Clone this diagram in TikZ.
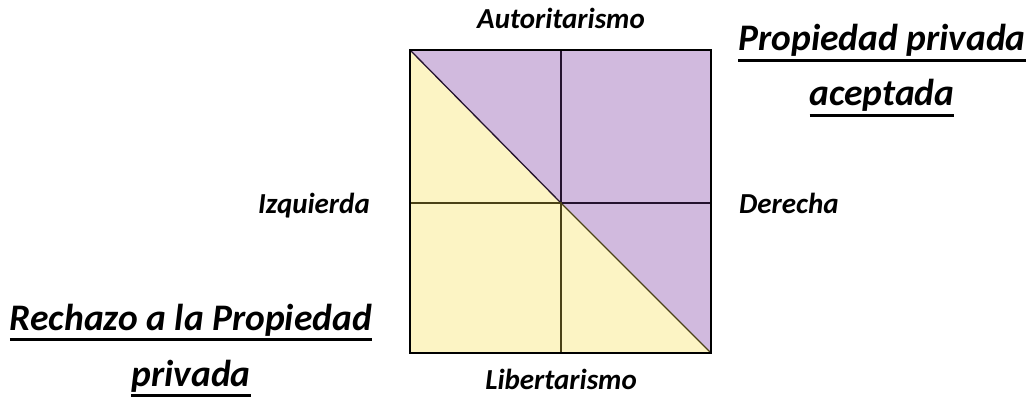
\documentclass[tikz,border=0pt]{standalone}
\usepackage{fontspec}
\setmainfont{Carlito}
\definecolor{lav}{HTML}{D1BADE}
\definecolor{yel}{HTML}{FCF4C4}
\definecolor{dpur}{HTML}{24122E}
\definecolor{olv}{HTML}{4A4116}
\newcommand\myul[1]{\setbox0\hbox{#1}\rlap{\rule[-11pt]{\wd0}{3pt}}\box0}
\tikzset{
  small/.style={font=\fontsize{29}{34}\selectfont\bfseries\itshape, inner sep=0pt},
  big/.style={font=\fontsize{37.5}{44}\selectfont\bfseries\itshape, inner sep=0pt},
  grid/.style={line width=2pt}
}
\begin{document}
\begin{tikzpicture}[x=1pt,y=-1pt]
\useasboundingbox (0,0) rectangle (1030,398);
\coordinate (tl) at (410,50);
\coordinate (tr) at (711,50);
\coordinate (bl) at (410,353);
\coordinate (br) at (711,353);
\coordinate (c) at (561,203);
\coordinate (tm) at (561,50);
\coordinate (bm) at (561,353);
\coordinate (lm) at (410,203);
\coordinate (rm) at (711,203);
\fill[yel] (tl) -- (br) -- (bl) -- cycle;
\fill[lav] (tl) -- (tr) -- (br) -- cycle;
\draw[dpur, line width=1.3pt] (tl) -- (c);
\draw[olv, line width=1.3pt] (c) -- (br);
\draw[grid, dpur] (tm) -- (c) -- (rm);
\draw[grid, olv] (bm) -- (c) -- (lm);
\draw[line width=2pt, black] (tl) rectangle (br);
\node[small, anchor=base] (aut) at (561,29) {Autoritarismo};
\node[small, anchor=base] (lib) at (561,389) {Libertarismo};
\node[small, anchor=base east] (izq) at (370,213) {Izquierda};
\node[small, anchor=base west] (der) at (739,213) {Derecha};
\node[big, anchor=base] (pp1) at (882,51) {\myul{Propiedad privada}};
\node[big, anchor=base] (pp2) at (882,106) {\myul{aceptada}};
\node[big, anchor=base] (rp1) at (191,330) {\myul{Rechazo a la Propiedad}};
\node[big, anchor=base] (rp2) at (191,386) {\myul{privada}};
\end{tikzpicture}
\end{document}
